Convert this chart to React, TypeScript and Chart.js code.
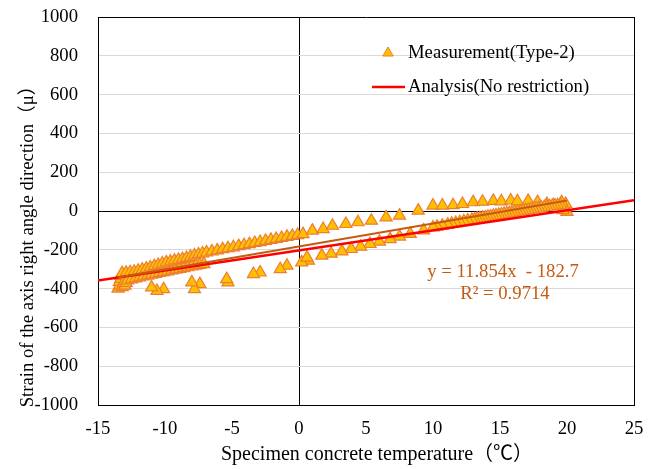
import { useEffect, useRef } from "react";
import { Chart, registerables } from "chart.js";

Chart.register(...registerables);

const FONT = "'Liberation Serif', 'Times New Roman', 'Noto Sans CJK JP', serif";
const FS = 18.7;
const XTITLE_FS = 20;
const YTITLE_FS = 18.7;

// Axis ticks and titles
const xTickValues = [-15, -10, -5, 0, 5, 10, 15, 20, 25];
const yTickValues = [-1000, -800, -600, -400, -200, 0, 200, 400, 600, 800, 1000];
const xTitle = "Specimen concrete temperature（℃）";
const yTitle = "Strain of the axis right angle direction（μ）";

// Measurement (Type-2): upper branch
const upperX = [-13.2, -12.9, -12.6, -12.3, -12.0, -11.7, -11.4, -11.1, -10.8, -10.5, -10.2, -9.9, -9.6, -9.3, -9.0, -8.7, -8.4, -8.1, -7.8, -7.5, -7.2, -6.9, -6.5, -6.1, -5.7, -5.3, -4.9, -4.5, -4.1, -3.7, -3.3, -2.9, -2.5, -2.1, -1.7, -1.3, -0.9, -0.5, -0.1, 0.3, 1.0, 1.8, 2.5, 3.5, 4.4, 5.4, 6.5, 7.5, 8.9, 10.0, 10.7, 11.5, 12.2, 13.0, 13.7, 14.5, 15.1, 15.8, 16.3, 17.1, 17.8, 18.5, 19.0, 19.5];
const upperY = [-320, -318, -316, -313, -308, -302, -297, -291, -284, -278, -271, -265, -261, -256, -252, -248, -242, -236, -229, -224, -219, -214, -208, -203, -197, -192, -187, -181, -176, -171, -165, -160, -154, -149, -144, -139, -133, -128, -124, -119, -101, -93, -76, -67, -58, -50, -33, -24, 2, 28, 28, 30, 36, 45, 48, 52, 50, 54, 50, 52, 46, 36, 30, 25];

// Measurement (Type-2): lower branch (right side)
const lowerX = [20.0, 19.9, 19.8, 19.7, 19.6, 19.5, 19.3, 19.1, 18.9, 18.7, 18.5, 18.3, 18.1, 17.9, 17.7, 17.5, 17.3, 17.1, 16.9, 16.7, 16.5, 16.3, 16.1, 15.9, 15.7, 15.5, 15.3, 15.1, 14.9, 14.7, 14.5, 14.3, 14.1, 13.9, 13.7, 13.5, 13.3, 13.1, 12.9, 12.6, 12.3, 12.0, 11.7, 11.4, 11.1, 10.7, 10.3, 10.0, 9.3, 8.3, 7.5, 6.8, 6.0, 5.3, 4.6, 3.9, 3.2, 2.4, 1.7, 0.6];
const lowerY = [-5, 36, 15, 5, 45, 32, 30, 28, 26, 24, 22, 20, 17, 15, 13, 11, 8, 6, 4, 1, -1, -3, -6, -8, -11, -13, -15, -18, -20, -23, -25, -28, -30, -33, -35, -37, -40, -43, -45, -49, -53, -58, -62, -66, -70, -76, -81, -85, -100, -118, -132, -145, -158, -170, -184, -196, -208, -220, -230, -240];

// Measurement (Type-2): sparse low points
const sparseX = [0.7, 0.2, -0.9, -1.4, -2.9, -3.4, -5.3, -5.4, -7.4, -7.8, -8.0, -10.1, -10.6, -11.0];
const sparseY = [-256, -265, -282, -300, -317, -325, -368, -351, -377, -403, -368, -403, -412, -394];

// Measurement (Type-2): left lower band
const leftLowX = [-12.8, -12.5, -12.2, -11.9, -11.6, -11.3, -11.0, -10.7, -10.4, -10.1, -9.8, -9.5, -9.2, -8.9, -8.6, -8.3, -8.0, -7.7, -7.4, -7.1];
const leftLowY = [-358, -352, -347, -342, -337, -333, -328, -324, -319, -315, -311, -306, -302, -298, -294, -290, -286, -282, -278, -274];

// Measurement (Type-2): cluster at minimum temperature
const clusterX = [-13.5, -13.4, -13.4, -13.3, -13.3, -13.2, -13.1, -13.0, -13.0, -12.9];
const clusterY = [-400, -385, -365, -350, -335, -392, -375, -360, -385, -370];

// Analysis (No restriction)
const analysisX = [-15, 25];
const analysisY = [-358, 56];

// Linear trend of measurement
const trendSlope = 11.854;
const trendIntercept = -182.7;
const trendR2 = 0.9714;

const pairs = (xs: number[], ys: number[]) => xs.map((x, i) => ({ x, y: ys[i] }));

const overlayPlugin = {
  id: "overlay",
  afterDraw(chart: any) {
    const ctx = chart.ctx as CanvasRenderingContext2D;
    ctx.save();
    ctx.textBaseline = "middle";
    // axis titles
    ctx.fillStyle = "#000";
    ctx.textAlign = "center";
    ctx.font = `${XTITLE_FS}px ${FONT}`;
    ctx.fillText(xTitle, 377, 455);
    ctx.save();
    ctx.translate(28, 242);
    ctx.rotate(-Math.PI / 2);
    ctx.font = `${YTITLE_FS}px ${FONT}`;
    ctx.fillText(yTitle, 0, 0);
    ctx.restore();

    ctx.font = `${FS}px ${FONT}`;
    ctx.textAlign = "left";
    // legend item 1: triangle
    const tx = 388, ty = 53, r = 6;
    ctx.beginPath();
    ctx.moveTo(tx, ty - r);
    ctx.lineTo(tx + r * 0.866, ty + r * 0.5);
    ctx.lineTo(tx - r * 0.866, ty + r * 0.5);
    ctx.closePath();
    ctx.fillStyle = "#FFC000";
    ctx.fill();
    ctx.strokeStyle = "#ED7D31";
    ctx.lineWidth = 1;
    ctx.stroke();
    ctx.fillStyle = "#000";
    ctx.fillText("Measurement(Type-2)", 408, 53);
    // legend item 2: red line
    ctx.beginPath();
    ctx.moveTo(372, 87);
    ctx.lineTo(405, 87);
    ctx.strokeStyle = "#FF0000";
    ctx.lineWidth = 2.5;
    ctx.stroke();
    ctx.fillStyle = "#000";
    ctx.fillText("Analysis(No restriction)", 408, 87);
    // trend equation
    ctx.fillStyle = "#C55A11";
    ctx.textAlign = "center";
    ctx.fillText(`y = ${trendSlope}x  - ${Math.abs(trendIntercept)}`, 503, 272);
    ctx.fillText(`R² = ${trendR2}`, 505, 294);
    ctx.restore();
  },
};

export default function App() {
  const ref = useRef<HTMLCanvasElement | null>(null);
  useEffect(() => {
    if (!ref.current) return;
    const measured = [
      ...pairs(clusterX, clusterY),
      ...pairs(leftLowX, leftLowY),
      ...pairs(sparseX, sparseY),
      ...pairs(upperX, upperY),
      ...pairs(lowerX, lowerY),
    ];
    const allX = measured.map((p) => p.x);
    const tMin = Math.min(...allX);
    const tMax = Math.max(...allX);
    const trend = [tMin, tMax].map((x) => ({ x, y: trendSlope * x + trendIntercept }));
    const font = { family: FONT, size: FS };
    const chart = new Chart(ref.current, {
      type: "scatter",
      data: {
        datasets: [
          {
            label: "Linear",
            data: trend,
            showLine: true,
            borderColor: "#C55A11",
            borderWidth: 2,
            pointRadius: 0,
          },
          {
            label: "Analysis(No restriction)",
            data: pairs(analysisX, analysisY),
            showLine: true,
            borderColor: "#FF0000",
            borderWidth: 2.5,
            pointRadius: 0,
          },
          {
            label: "Measurement(Type-2)",
            data: measured,
            pointStyle: "triangle",
            pointRadius: 7,
            backgroundColor: "#FFC000",
            borderColor: "#ED7D31",
            borderWidth: 1.2,
          },
        ],
      },
      options: {
        animation: false,
        responsive: false,
        devicePixelRatio: 1,
        events: [],
        layout: { padding: { top: 17, right: 16, left: 0, bottom: 0 } },
        plugins: { legend: { display: false }, tooltip: { enabled: false } },
        scales: {
          x: {
            type: "linear",
            position: "bottom",
            min: -15,
            max: 25,
            afterBuildTicks: (s: any) => {
              s.ticks = xTickValues.map((v) => ({ value: v }));
            },
            afterFit: (s: any) => {
              s.height = 64;
              s.paddingLeft = 0;
              s.paddingRight = 0;
            },
            ticks: { font, color: "#000", padding: 13, callback: (v: any) => String(v), maxRotation: 0 },
            grid: {
              drawTicks: false,
              lineWidth: 1,
              color: (c: any) =>
                c.tick && (c.tick.value === 0 || c.tick.value === -15 || c.tick.value === 25) ? "#000" : "rgba(0,0,0,0)",
            },
            border: { display: true, color: "#000" },
            title: { display: false },
          },
          y: {
            type: "linear",
            min: -1000,
            max: 1000,
            afterBuildTicks: (s: any) => {
              s.ticks = yTickValues.map((v) => ({ value: v }));
            },
            afterFit: (s: any) => {
              s.width = 98;
              s.paddingTop = 0;
              s.paddingBottom = 0;
            },
            ticks: { font, color: "#000", padding: 20, callback: (v: any) => String(v) },
            grid: {
              drawTicks: false,
              lineWidth: 1,
              color: (c: any) =>
                c.tick && (c.tick.value === 0 || Math.abs(c.tick.value) === 1000) ? "#000" : "#D9D9D9",
            },
            border: { display: true, color: "#000" },
            title: { display: false },
          },
        },
      },
      plugins: [overlayPlugin],
    });
    return () => chart.destroy();
  }, []);
  return (
    <div style={{ position: "absolute", left: 0, top: 0, width: 650, height: 469, background: "#fff" }}>
      <canvas ref={ref} width={650} height={469} style={{ display: "block" }} />
    </div>
  );
}
